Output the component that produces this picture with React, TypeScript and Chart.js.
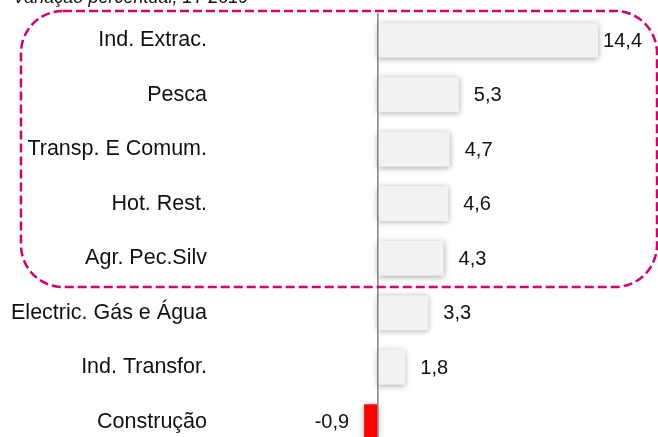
import { useEffect, useRef } from "react";
import { Chart, registerables } from "chart.js";

Chart.register(...registerables);

const categories = [
  "Ind. Extrac.",
  "Pesca",
  "Transp. E Comum.",
  "Hot. Rest.",
  "Agr. Pec.Silv",
  "Electric. Gás e Água",
  "Ind. Transfor.",
  "Construção",
];
const values = [14.4, 5.3, 4.7, 4.6, 4.3, 3.3, 1.8, -0.9];
const titleText = "Variação percentual, 1T 2019";
const highlightedCount = 5;

const FONT = "'Liberation Sans', Arial, sans-serif";

const fmt = (v: number) => v.toFixed(1).replace(".", ",");

export default function App() {
  const ref = useRef<HTMLCanvasElement | null>(null);

  useEffect(() => {
    const canvas = ref.current;
    if (!canvas) return;

    const shadowPlugin = {
      id: "barShadow",
      beforeDatasetsDraw(chart: any) {
        const ctx = chart.ctx;
        ctx.save();
        ctx.shadowColor = "rgba(0,0,0,0.35)";
        ctx.shadowBlur = 6;
        ctx.shadowOffsetX = 0;
        ctx.shadowOffsetY = 1;
      },
      afterDatasetsDraw(chart: any) {
        chart.ctx.restore();
      },
    };

    const overlayPlugin = {
      id: "overlay",
      afterDraw(chart: any) {
        const ctx = chart.ctx;
        const xs = chart.scales.x;
        const ys = chart.scales.y;
        const area = chart.chartArea;
        const band = ys.getPixelForValue(1) - ys.getPixelForValue(0);

        // zero line
        const x0 = xs.getPixelForValue(0);
        ctx.save();
        ctx.strokeStyle = "#808080";
        ctx.lineWidth = 1.5;
        ctx.beginPath();
        ctx.moveTo(x0, area.top);
        ctx.lineTo(x0, chart.height);
        ctx.stroke();
        ctx.restore();

        // value labels
        const meta = chart.getDatasetMeta(0);
        ctx.save();
        ctx.font = `20px ${FONT}`;
        ctx.fillStyle = "#111111";
        ctx.textBaseline = "middle";
        meta.data.forEach((el: any, i: number) => {
          const v = values[i];
          const t = fmt(v);
          const w = ctx.measureText(t).width;
          if (v >= 0) {
            ctx.textAlign = "left";
            const x = Math.min(el.x + 15, area.right - w - 11);
            ctx.fillText(t, x, el.y + 1);
          } else {
            ctx.textAlign = "right";
            ctx.fillText(t, el.x - 15, el.y + 1);
          }
        });
        ctx.restore();

        // title (partly above the page)
        ctx.save();
        ctx.font = `italic 18px ${FONT}`;
        ctx.fillStyle = "#111111";
        ctx.textAlign = "left";
        ctx.textBaseline = "alphabetic";
        ctx.fillText(titleText, 13, 3);
        ctx.restore();

        // dashed highlight box
        const left = 21;
        const right = 657;
        const top = ys.getPixelForValue(0) - band / 2 - 2;
        const bottom = ys.getPixelForValue(highlightedCount - 1) + band / 2 + 1.5;
        const r = 42;
        ctx.save();
        ctx.strokeStyle = "#d5006d";
        ctx.lineWidth = 2.5;
        ctx.setLineDash([9, 4]);
        ctx.beginPath();
        ctx.moveTo(left + r, top);
        ctx.lineTo(right - r, top);
        ctx.arcTo(right, top, right, top + r, r);
        ctx.lineTo(right, bottom - r);
        ctx.arcTo(right, bottom, right - r, bottom, r);
        ctx.lineTo(left + r, bottom);
        ctx.arcTo(left, bottom, left, bottom - r, r);
        ctx.lineTo(left, top + r);
        ctx.arcTo(left, top, left + r, top, r);
        ctx.closePath();
        ctx.stroke();
        ctx.restore();
      },
    };

    const chart = new Chart(canvas, {
      type: "bar",
      data: {
        labels: categories,
        datasets: [
          {
            data: values,
            backgroundColor: values.map((v) => (v < 0 ? "#ff0000" : "#f2f2f2")),
            borderWidth: 0,
            barPercentage: 0.64,
            categoryPercentage: 1,
          },
        ],
      },
      options: {
        indexAxis: "y",
        responsive: false,
        animation: false,
        devicePixelRatio: 1,
        layout: { padding: { top: 13, bottom: 13, left: 0, right: 5 } },
        plugins: {
          legend: { display: false },
          tooltip: { enabled: false },
          title: { display: false },
        },
        scales: {
          x: {
            display: false,
            min: -10,
            max: 18,
          },
          y: {
            grid: { display: false, drawTicks: false },
            border: { display: false },
            ticks: {
              padding: 18,
              color: "#111111",
              font: { size: 21.5, family: FONT },
              autoSkip: false,
            },
            afterFit(scale: any) {
              scale.width = 225;
              scale.paddingTop = 0;
              scale.paddingBottom = 0;
            },
          },
        },
      },
      plugins: [shadowPlugin, overlayPlugin],
    });

    return () => chart.destroy();
  }, []);

  return (
    <div style={{ position: "absolute", left: 0, top: 0, width: 658, height: 462, overflow: "hidden", background: "#fff" }}>
      <canvas ref={ref} width={658} height={462} style={{ display: "block", width: 658, height: 462 }} />
    </div>
  );
}
